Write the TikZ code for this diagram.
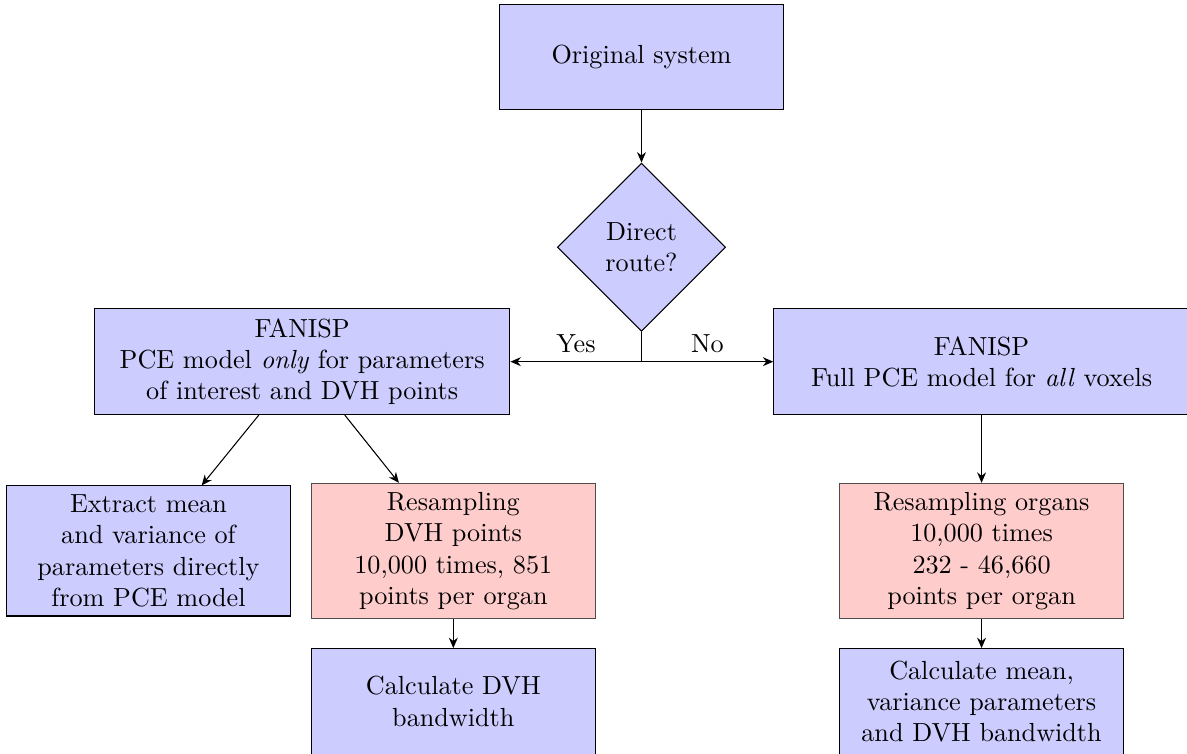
\documentclass[tikz,border=0pt]{standalone}
\usepackage{tikz}
\usetikzlibrary{positioning, arrows.meta, shapes.geometric}

\begin{document}
\begin{tikzpicture}[
      block/.style={draw, fill=blue!20, align=center, minimum
      width=3.81cm, minimum height=1.42cm},
      wide/.style={block, minimum width=5.58cm},
      resample/.style={block, draw=black!70, fill=red!20},
      decision/.style={diamond, draw, fill=blue!20, align=center,
      minimum size=2.26cm, inner sep=0pt},
      arr/.style={-{Stealth[length=1.4mm, width=1.2mm]}}
    ]
    \useasboundingbox (-8.615,0.766) rectangle (7.326,-9.347);
    \clip (-8.615,0.766) rectangle (7.326,-9.347);

    \node[block] (orig) at (0,0) {Original system};
    \node[decision, below=0.7cm of orig] (route) {Direct \\ route?};
    \coordinate[below=0.4cm of route] (split);
    \node[wide, left=1.76cm of split] (pceonly) {FANISP \\ PCE model
      \emph{only} for parameters \\ of interest and DVH points};
    \node[wide, right=1.77cm of split] (fullpce) {FANISP \\ Full PCE
      model for \emph{all} voxels};

    \node[resample, below=0.91cm of pceonly.south, xshift=2.03cm]
      (resdvh) {Resampling \\ DVH points \\ 10,000 times, 851 \\ points
      per organ};
    \node[block, left=0.27cm of resdvh] (extract) {Extract mean \\ and
      variance of \\ parameters directly \\ from PCE model};
    \node[block, below=0.39cm of resdvh] (calcdvh) {Calculate DVH \\
      bandwidth};
    \node[resample, below=0.91cm of fullpce] (resorg) {Resampling
      organs \\ 10,000 times \\ 232 - 46,660 \\ points per organ};
    \node[block, below=0.39cm of resorg] (calcmean) {Calculate mean, \\
      variance parameters \\ and DVH bandwidth};

    \draw[arr] (orig) -- (route);
    \draw (route.south) -- (split);
    \draw[arr] (split) -- node[above] {Yes} (pceonly);
    \draw[arr] (split) -- node[above] {No} (fullpce);
    \draw[arr] (pceonly) -- (extract);
    \draw[arr] (pceonly) -- (resdvh);
    \draw[arr] (resdvh) -- (calcdvh);
    \draw[arr] (fullpce) -- (resorg);
    \draw[arr] (resorg) -- (calcmean);
  \end{tikzpicture}
\end{document}
